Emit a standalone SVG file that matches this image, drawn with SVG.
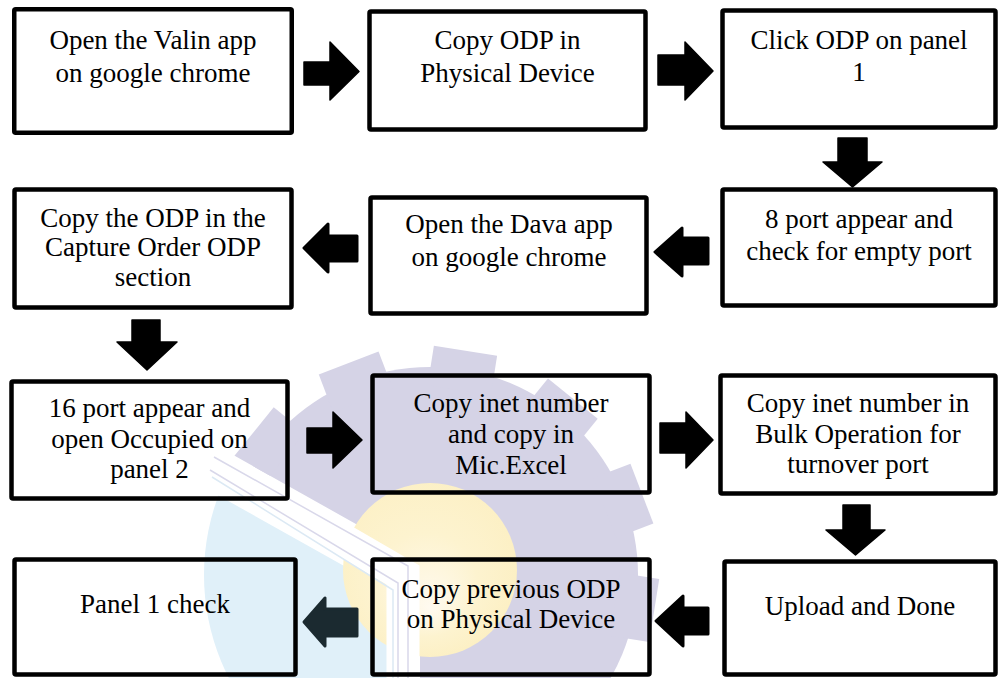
<svg xmlns="http://www.w3.org/2000/svg" width="998" height="678" viewBox="0 0 998 678">
  <style>
    .box { fill: none; stroke: #000; stroke-width: 4.5; }
    .lbl { font-size: 27px; fill: #000; text-anchor: middle; }
    .arr { fill: #000; stroke: #000; stroke-width: 1.5; stroke-linejoin: round; }
    .arrL { fill: #000; stroke: #000; stroke-width: 3; stroke-linejoin: round; }
  </style>
  <defs>
    <clipPath id="wmUpper"><path d="M420,678 V560 L0,324 V0 H998 V678 Z"/></clipPath>
    <clipPath id="wmLower"><path d="M387,678 V590 L0,373 V678 Z"/></clipPath>
    <radialGradient id="sun" cx="0.45" cy="0.45" r="0.6" fx="0.5" fy="0.72">
      <stop offset="0" stop-color="#fffaf0"/>
      <stop offset="0.5" stop-color="#fdf3cf"/>
      <stop offset="1" stop-color="#fcefc2"/>
    </radialGradient>
  </defs>

  <rect x="0" y="0" width="998" height="678" fill="#ffffff"/>

  <g id="watermark">
    <circle cx="430" cy="575" r="226" fill="#e0f0f9" clip-path="url(#wmLower)"/>
    <g clip-path="url(#wmUpper)" fill="#d5d3e6">
      <circle cx="430" cy="575" r="208"/>
      <g transform="translate(430,575)">
        <rect x="-32" y="-227" width="64" height="40" transform="rotate(9)"/>
        <rect x="-32" y="-227" width="64" height="40" transform="rotate(39)"/>
        <rect x="-32" y="-227" width="64" height="40" transform="rotate(69)"/>
        <rect x="-32" y="-227" width="64" height="40" transform="rotate(99)"/>
        <rect x="-32" y="-227" width="64" height="40" transform="rotate(129)"/>
        <rect x="-32" y="-227" width="64" height="40" transform="rotate(159)"/>
        <rect x="-32" y="-227" width="64" height="40" transform="rotate(279)"/>
        <rect x="-32" y="-227" width="64" height="40" transform="rotate(309)"/>
        <rect x="-32" y="-227" width="64" height="40" transform="rotate(339)"/>
      </g>
    </g>
    <circle cx="430" cy="570" r="87" fill="url(#sun)"/>
    <polyline points="212,464 403,575 403,678" fill="none" stroke="#ffffff" stroke-width="33"/>
    <polyline points="214,457 408,566 408,678" fill="none" stroke="#d9d8ea" stroke-width="1.5"/>
    <polyline points="210,470 398,583 398,678" fill="none" stroke="#d9d8ea" stroke-width="1.5"/>
    <polyline points="212,477 393,590 393,678" fill="none" stroke="#dce9f4" stroke-width="1.5"/>
  </g>

  <g id="connectors">
    <path class="arr" d="M304,62 H330 V42 L359,71.5 L330,100 V85 H304 Z"/>
    <path class="arr" d="M658,55 H685 V42 L713,71 L685,100 V85 H658 Z"/>
    <path class="arr" d="M838,138 H867 V162 H882 L852.5,187 L823,162 H838 Z"/>
    <path class="arrL" d="M708,238 V264 H682 V276 L655,252 L682,228 V238 Z"/>
    <path class="arrL" d="M357,236 V261 H328 V272 L304,248 L328,224 V236 Z"/>
    <path class="arr" d="M132,320 H160 V342 H177 L147,370 L117,342 H132 Z"/>
    <path class="arr" d="M307,428 H333 V412 L362,440 L333,468 V453 H307 Z"/>
    <path class="arr" d="M660,423 H686 V412 L713,440 L686,468 V453 H660 Z"/>
    <path class="arr" d="M843,505 H870 V530 H885 L855.5,555 L826,530 H843 Z"/>
    <path class="arrL" d="M708,608 V634 H683 V646 L656,621 L683,596 V608 Z"/>
    <path class="arrL" d="M357,609 V636 H325 V646 L304,622 L325,598 V609 Z" style="fill:#1b2a30;stroke:#1b2a30"/>
  </g>

  <g id="nodes" font-family="Liberation Serif, serif">
  <g id="n1">
    <rect class="box" x="14.25" y="9.25" width="277.5" height="123.5" rx="1.5"/>
    <text class="lbl" x="153" y="49">Open the Valin app</text>
    <text class="lbl" x="153" y="82">on google chrome</text>
  </g>
  <g id="n2">
    <rect class="box" x="369.5" y="11.5" width="276" height="118" rx="1.5"/>
    <text class="lbl" x="507.5" y="49">Copy ODP in</text>
    <text class="lbl" x="507.5" y="82">Physical Device</text>
  </g>
  <g id="n3">
    <rect class="box" x="722.5" y="10.5" width="273" height="117" rx="1.5"/>
    <text class="lbl" x="859" y="49">Click ODP on panel</text>
    <text class="lbl" x="859" y="81">1</text>
  </g>
  <g id="n4">
    <rect class="box" x="722.5" y="189.5" width="273" height="116" rx="1.5"/>
    <text class="lbl" x="859" y="228">8 port appear and</text>
    <text class="lbl" x="859" y="260">check for empty port</text>
  </g>
  <g id="n5">
    <rect class="box" x="370.5" y="197.5" width="276" height="116" rx="1.5"/>
    <text class="lbl" x="509" y="233">Open the Dava app</text>
    <text class="lbl" x="509" y="266">on google chrome</text>
  </g>
  <g id="n6">
    <rect class="box" x="14.5" y="189.5" width="277" height="118" rx="1.5"/>
    <text class="lbl" x="153" y="227">Copy the ODP in the</text>
    <text class="lbl" x="153" y="256">Capture Order ODP</text>
    <text class="lbl" x="153" y="286">section</text>
  </g>
  <g id="n7">
    <rect class="box" x="11.5" y="381.5" width="276" height="117" rx="1.5"/>
    <text class="lbl" x="149.5" y="417">16 port appear and</text>
    <text class="lbl" x="149.5" y="448">open Occupied on</text>
    <text class="lbl" x="149.5" y="478">panel 2</text>
  </g>
  <g id="n8">
    <rect class="box" x="372.5" y="375.5" width="277" height="117" rx="1.5"/>
    <text class="lbl" x="511" y="412">Copy inet number</text>
    <text class="lbl" x="511" y="443">and copy in</text>
    <text class="lbl" x="511" y="474">Mic.Excel</text>
  </g>
  <g id="n9">
    <rect class="box" x="720.5" y="375.5" width="275" height="118" rx="1.5"/>
    <text class="lbl" x="858" y="412">Copy inet number in</text>
    <text class="lbl" x="858" y="443">Bulk Operation for</text>
    <text class="lbl" x="858" y="473">turnover port</text>
  </g>
  <g id="n10">
    <rect class="box" x="724.5" y="561.5" width="271" height="113" rx="1.5"/>
    <text class="lbl" x="860" y="615">Upload and Done</text>
  </g>
  <g id="n11">
    <rect class="box" x="372.5" y="559.5" width="277" height="115" rx="1.5"/>
    <text class="lbl" x="511" y="598">Copy previous ODP</text>
    <text class="lbl" x="511" y="628">on Physical Device</text>
  </g>
  <g id="n12">
    <rect class="box" x="14.5" y="559.5" width="281" height="115" rx="1.5"/>
    <text class="lbl" x="155" y="613">Panel 1 check</text>
  </g>
  </g>
</svg>
